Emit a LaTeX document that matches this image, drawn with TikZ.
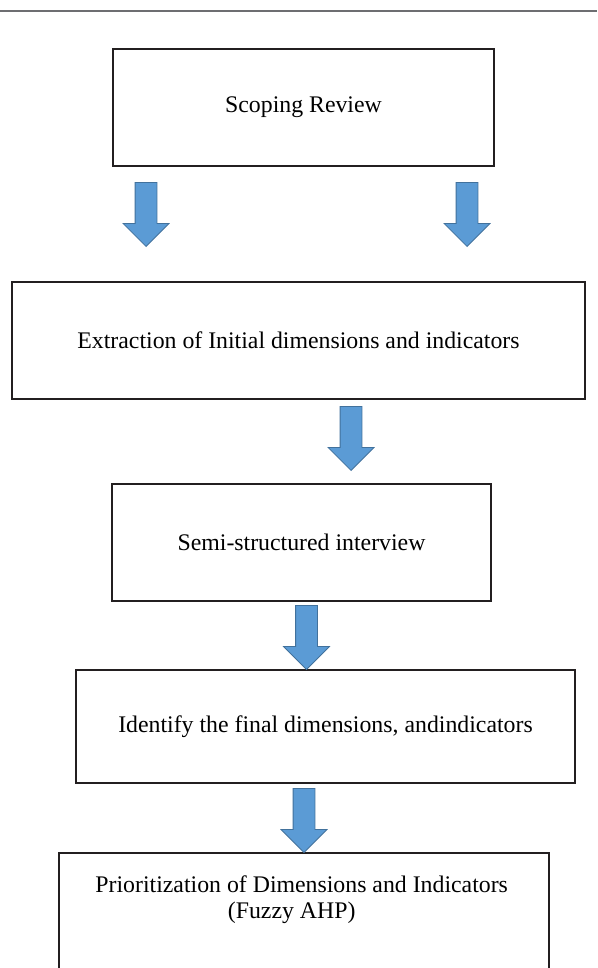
\documentclass[tikz,border=0pt]{standalone}
\usepackage{fontspec}
\setmainfont{Liberation Serif}
\usetikzlibrary{shapes.arrows}
\definecolor{arrowfill}{HTML}{5B9BD5}
\definecolor{arrowline}{HTML}{41719C}
\definecolor{boxline}{HTML}{231F20}
\definecolor{ruleline}{HTML}{6D6E71}
\begin{document}
\begin{tikzpicture}[x=1pt,y=-1pt,
  stepbox/.style={draw=boxline, line width=1.8pt, fill=white, inner sep=0pt,
    font=\fontsize{23.8}{26.5}\selectfont},
  blockarrow/.style={single arrow, draw=arrowline, fill=arrowfill, line width=0.8pt,
    minimum height=64pt, single arrow head extend=12pt,
    single arrow head indent=0pt, single arrow tip angle=90,
    shape border rotate=270, inner sep=10.5pt, anchor=tip},
  lbl/.style={inner sep=0pt, align=center, font=\fontsize{23.8}{26.5}\selectfont}]
\useasboundingbox (0,0) rectangle (597,968);
\clip (0,0) rectangle (597,968);
\fill[white] (0,0) rectangle (597,968);
\draw[ruleline, line width=1.2pt] (0,11) -- (597,11);

\node[stepbox, minimum width=381pt, minimum height=117pt] (scope) at (303.5,107.5) {Scoping Review};
\node[stepbox, minimum width=573pt, minimum height=117pt] (extract) at (298.5,340.5) {Extraction of Initial dimensions and indicators};
\node[stepbox, minimum width=379pt, minimum height=117pt] (semi) at (301.5,542.5) {Semi-structured interview};
\node[stepbox, minimum width=499pt, minimum height=113pt] (ident) at (325.5,726.5) {Identify the final dimensions, andindicators};
\node[stepbox, minimum width=490pt, minimum height=250pt, anchor=north] (prior) at (304,852) {};
\node[lbl, anchor=north] (priortext) at (301.7,875.3) {Prioritization of Dimensions and Indicators\\(Fuzzy AHP)\hspace*{20pt}};

\node[blockarrow] (a1) at (146,247) {};
\node[blockarrow] (a2) at (467,247) {};
\node[blockarrow] (a3) at (351,471) {};
\node[blockarrow] (a4) at (306.5,670) {};
\node[blockarrow] (a5) at (304,853) {};
\end{tikzpicture}
\end{document}
